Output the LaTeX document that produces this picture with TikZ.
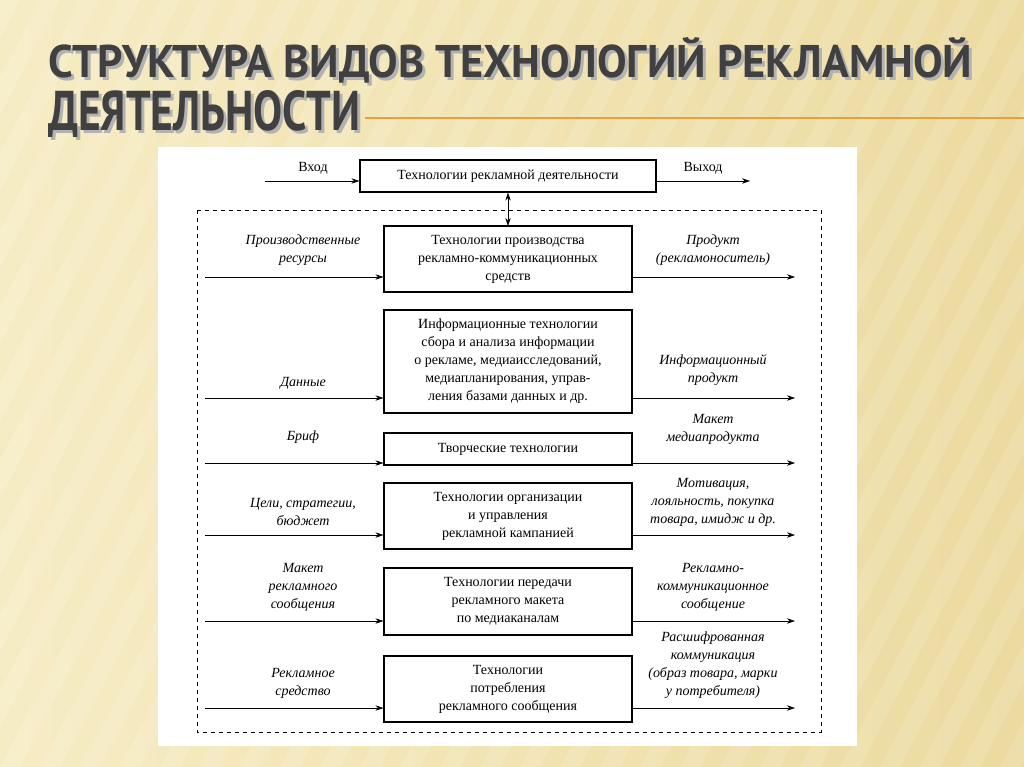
\documentclass[tikz,border=0pt]{standalone}
\usepackage{fontspec}
\setmainfont{Liberation Serif}
\newfontfamily\titlefont{PT Sans}
\usetikzlibrary{arrows.meta}
\definecolor{bgA}{RGB}{246,236,196}
\definecolor{bgB}{RGB}{236,218,160}
\definecolor{ttl}{RGB}{64,64,64}
\definecolor{orng}{RGB}{232,160,60}
\begin{document}
\begin{tikzpicture}[x=0.75pt,y=-0.75pt,
  box/.style={draw,thick,align=center,inner sep=2pt,font=\fontsize{10.5}{13.5}\selectfont},
  lbl/.style={align=center,font=\itshape\fontsize{10.5}{13.5}\selectfont},
  arr/.style={-{Stealth[length=6pt,width=4pt]},thin}]
\useasboundingbox (0,0) rectangle (1024,767);
\shade[left color=bgA,right color=bgB] (0,0) rectangle (1024,767);
\foreach \i in {0,40,...,1400}{\fill[white,opacity=0.12] (\i-400,767) -- (\i-380,767) -- (\i+20,0) -- (\i,0) -- cycle;}
% title
\node (t1s) [anchor=west,inner sep=0,text=gray!60] at (51,63) {\resizebox{693pt}{30pt}{\titlefont\bfseries СТРУКТУРА ВИДОВ ТЕХНОЛОГИЙ РЕКЛАМНОЙ}};
\node (t1) [anchor=west,inner sep=0,text=ttl] at (48,60) {\resizebox{693pt}{30pt}{\titlefont\bfseries СТРУКТУРА ВИДОВ ТЕХНОЛОГИЙ РЕКЛАМНОЙ}};
\node (t2s) [anchor=west,inner sep=0,text=gray!60] at (51,117) {\resizebox{234pt}{30pt}{\titlefont\bfseries ДЕЯТЕЛЬНОСТИ}};
\node (t2) [anchor=west,inner sep=0,text=ttl] at (48,114) {\resizebox{234pt}{30pt}{\titlefont\bfseries ДЕЯТЕЛЬНОСТИ}};
\draw[orng,line width=1.2pt] (365,118) -- (1024,118);
% panel
\fill[white] (158,147) rectangle (857,746);
\draw[dashed,thin] (197,210) rectangle (821,732);
% top
\node (top) [box,minimum width=222pt,minimum height=24pt] at (508,176) {Технологии рекламной деятельности};
\coordinate (inT) at (265,181); \coordinate (outT) at (750,181);
\node (vin) [font=\fontsize{10.5}{13}\selectfont] at (313,168) {Вход};
\node (vout) [font=\fontsize{10.5}{13}\selectfont] at (703,168) {Выход};
\draw[arr] (inT) -- (inT -| top.west);
\draw[arr] (top.east |- outT) -- (outT);
\coordinate (b1top) at (508,226);
\draw[{Stealth[length=6pt,width=4pt]}-{Stealth[length=6pt,width=4pt]},thin] (top.south) -- (b1top);
% boxes
\foreach \n/\ya/\yb/\txt in {
 b1/226/292/{Технологии производства\\рекламно-коммуникационных\\средств},
 b2/310/413/{Информационные технологии\\сбора и анализа информации\\о рекламе, медиаисследований,\\медиапланирования, управ-\\ления базами данных и др.},
 b3/433/465/{Творческие технологии},
 b4/483/549/{Технологии организации\\и управления\\рекламной кампанией},
 b5/568/635/{Технологии передачи\\рекламного макета\\по медиаканалам},
 b6/656/722/{Технологии\\потребления\\рекламного сообщения}}{
 \node (\n) [box,minimum width=186pt,minimum height={(\yb-\ya)*0.75pt}] at (508,{(\ya+\yb)/2}) {\txt};
}
% left labels & arrows
\foreach \n/\y/\ly/\txt in {
 b1/277/250/{Производственные\\ресурсы},
 b2/398/383/{Данные},
 b3/463/437/{Бриф},
 b4/535/512/{Цели, стратегии,\\бюджет},
 b5/621/587/{Макет\\рекламного\\сообщения},
 b6/708/683/{Рекламное\\средство}}{
 \node (L\n) [lbl] at (303,\ly) {\txt};
 \coordinate (S\n) at (205,\y);
 \draw[arr] (S\n) -- (S\n -| \n.west);
}
% right labels & arrows
\foreach \n/\y/\ly/\txt in {
 b1/277/250/{Продукт\\(рекламоноситель)},
 b2/398/370/{Информационный\\продукт},
 b3/463/429/{Макет\\медиапродукта},
 b4/535/502/{Мотивация,\\лояльность, покупка\\товара, имидж и др.},
 b5/621/587/{Рекламно-\\коммуникационное\\сообщение},
 b6/708/665/{Расшифрованная\\коммуникация\\(образ товара, марки\\у потребителя)}}{
 \node (R\n) [lbl] at (713,\ly) {\txt};
 \coordinate (E\n) at (795,\y);
 \draw[arr] (\n.east |- E\n) -- (E\n);
}
\end{tikzpicture}
\end{document}
